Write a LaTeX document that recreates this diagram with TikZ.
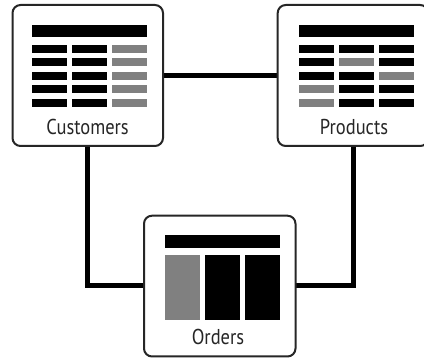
\documentclass[tikz,border=0pt]{standalone}
\usepackage{fontspec}
\setmainfont{PT Sans}
\begin{document}
\begin{tikzpicture}[x=1pt,y=-1pt,
  tablebox/.style={draw=black!85,line width=2pt,rounded corners=8pt,fill=white},
  link/.style={draw=black,line width=5pt},
  blk/.style={fill=black},
  gry/.style={fill=black!50},
  caption/.style={font=\fontsize{21.5}{21.5}\selectfont,text=black!85,inner sep=0pt,xscale=0.86}]
\useasboundingbox (0,0) rectangle (424,358);
\clip (0,0) rectangle (424,358);

% connectors (behind the boxes)
\coordinate (cb) at (87.7,146);
\coordinate (pb) at (353,146);
\coordinate (ll) at (87.7,286);
\coordinate (rr) at (353,286);
\coordinate (ol) at (144,286);
\coordinate (or) at (295.5,286);
\coordinate (cr) at (163,76);
\coordinate (pl) at (277.7,76);
\draw[link] (cr) -- (pl);
\draw[link,line join=miter] (cb) -- (ll) -- (ol);
\draw[link,line join=miter] (pb) -- (rr) -- (or);

% Customers table
\path[tablebox] (12.5,5) rectangle (163,146);
\fill[blk] (31.7,25) rectangle (146.7,37.3);
\foreach \y in {45,58.5,72,85.5,99}{
  \fill[blk] (31.7,\y) rectangle (66.7,\y+8);
  \fill[blk] (71.7,\y) rectangle (106.7,\y+8);
  \fill[gry] (111.7,\y) rectangle (146.7,\y+8);
}
\node[caption] (custlabel) at (87.5,127) {Customers};

% Products table
\path[tablebox] (277.7,5) rectangle (428.2,146);
\fill[blk] (299.3,25) rectangle (414,37.3);
\foreach \y/\a/\b/\c in {45/blk/blk/blk,58.5/blk/gry/blk,72/blk/blk/gry,85.5/gry/blk/blk,99/gry/blk/blk}{
  \fill[\a] (299.3,\y) rectangle (334.3,\y+8);
  \fill[\b] (339,\y) rectangle (374,\y+8);
  \fill[\c] (379,\y) rectangle (414,\y+8);
}
\node[caption] (prodlabel) at (354,127) {Products};

% Orders table
\path[tablebox] (144,215.7) rectangle (295.5,356.5);
\fill[blk] (165,235) rectangle (280,247.7);
\fill[gry] (165,255) rectangle (200,320);
\fill[blk] (205,255) rectangle (240,320);
\fill[blk] (245,255) rectangle (280,320);
\node[caption] (ordlabel) at (218,337) {Orders};
\end{tikzpicture}
\end{document}
